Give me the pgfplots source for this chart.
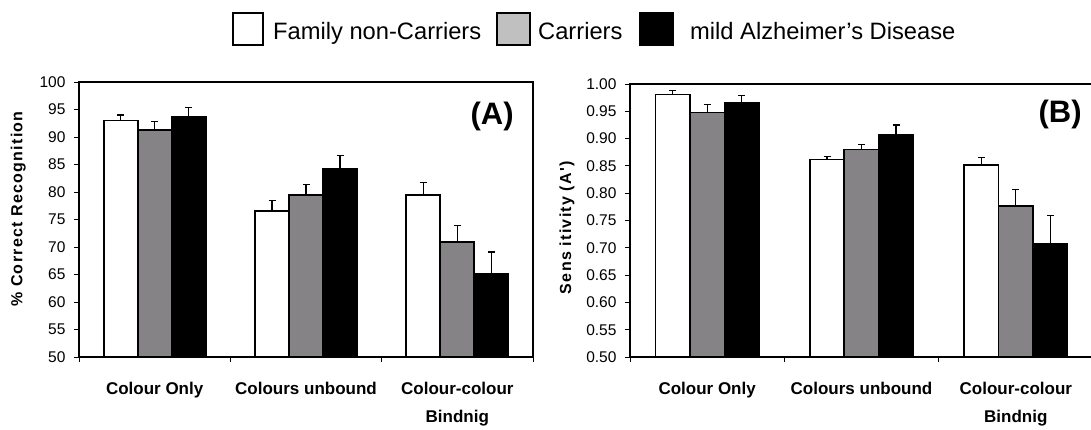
\documentclass[border=0pt]{standalone}
\usepackage{fontspec}
\setmainfont{Liberation Sans}
\newfontfamily\spacedfont{Liberation Sans}[LetterSpace=8]
\usepackage{pgfplots}
\usepackage{pgfplotstable}
\pgfplotsset{compat=1.18}
\definecolor{bargray}{RGB}{134,131,134}
\definecolor{leggray}{RGB}{192,192,192}

\pgfplotstableread{
x nc c ad nce ce ade
0 93.0 91.3 93.7 1.0 1.5 1.7
1 76.6 79.5 84.3 1.8 1.8 2.3
2 79.4 70.9 65.1 2.3 3.0 4.0
}\dataA
\pgfplotstableread{
x nc c ad nce ce ade
0 0.981 0.948 0.965 0.007 0.014 0.014
1 0.862 0.880 0.907 0.006 0.010 0.018
2 0.852 0.776 0.708 0.013 0.030 0.051
}\dataB

\pgfplotsset{
  mybar/.style={
    scale only axis, ybar=0pt,
    xmin=-0.5, xmax=2.5,
    xtick={-0.5,0.5,1.5,2.5}, xticklabels={},
    extra x ticks={0,1,2},
    extra x tick labels={Colour Only, Colours unbound, {Colour-colour\\Bindnig}},
    extra x tick style={major tick length=0pt,
      tick label style={font=\bfseries\fontsize{17}{28}\selectfont, align=center, yshift=-22pt}},
    tick align=outside, major tick length=5pt,
    xtick pos=bottom, ytick pos=left,
    axis line style={line width=1.8pt},
    tick style={line width=1pt, black},
    yticklabel style={font=\fontsize{15.5}{17}\selectfont, xshift=-5pt},
    /pgf/number format/assume math mode=true,
    ylabel style={font=\spacedfont\bfseries\fontsize{16}{18}\selectfont, anchor=center},
  },
  barstyle/.style={draw=black, line width=1.7pt,
    error bars/.cd, y dir=plus, y explicit,
    error bar style={line width=1.1pt, black},
    error mark options={rotate=90, mark size=3.5pt, line width=1.1pt, black}},
}

\begin{document}
\begin{tikzpicture}
\useasboundingbox (0pt,0pt) rectangle (1091pt,-430pt);

% legend
\draw[line width=2pt, fill=white] (233pt,-13pt) rectangle (263pt,-45pt);
\draw[line width=2pt, fill=leggray] (497pt,-13pt) rectangle (530pt,-45pt);
\draw[line width=2pt, fill=black] (640pt,-13pt) rectangle (673pt,-45pt);
\node[anchor=base west, inner sep=0pt, font=\fontsize{23.7}{26}\selectfont] at (273pt,-40pt) {Family non-Carriers};
\node[anchor=base west, inner sep=0pt, font=\fontsize{23.7}{26}\selectfont] at (538pt,-40pt) {Carriers};
\node[anchor=base west, inner sep=0pt, font=\fontsize{23.7}{26}\selectfont] at (690pt,-40pt) {mild Alzheimer's Disease};

\begin{axis}[mybar, at={(79pt,-357pt)}, anchor=south west,
  width=454pt, height=275pt, bar width=34pt,
  ymin=50, ymax=100, ytick={50,55,...,100},
  ylabel={\% Correct Recognition},
  ylabel style={at={(axis description cs:-0.134,0.538)}},
]
\addplot[fill=white, barstyle] table[x=x, y=nc, y error=nce]{\dataA};
\addplot[fill=bargray, barstyle] table[x=x, y=c, y error=ce]{\dataA};
\addplot[fill=black, barstyle] table[x=x, y=ad, y error=ade]{\dataA};
\node[font=\bfseries\fontsize{31}{31}\selectfont] at (axis description cs:0.910,0.873) {(A)};
\end{axis}

\begin{axis}[mybar, at={(630pt,-357pt)}, anchor=south west,
  width=463pt, height=273pt, bar width=34.5pt,
  ymin=0.5, ymax=1.0, ytick={0.5,0.55,...,1.01},
  yticklabel={\pgfmathprintnumber[fixed, fixed zerofill, precision=2]{\tick}},
  ylabel={Sens itivity (A')},
  ylabel style={at={(axis description cs:-0.136,0.474)}},
]
\addplot[fill=white, barstyle] table[x=x, y=nc, y error=nce]{\dataB};
\addplot[fill=bargray, barstyle] table[x=x, y=c, y error=ce]{\dataB};
\addplot[fill=black, barstyle] table[x=x, y=ad, y error=ade]{\dataB};
\node[font=\bfseries\fontsize{31}{31}\selectfont] at (axis description cs:0.929,0.890) {(B)};
\end{axis}
\end{tikzpicture}
\end{document}
